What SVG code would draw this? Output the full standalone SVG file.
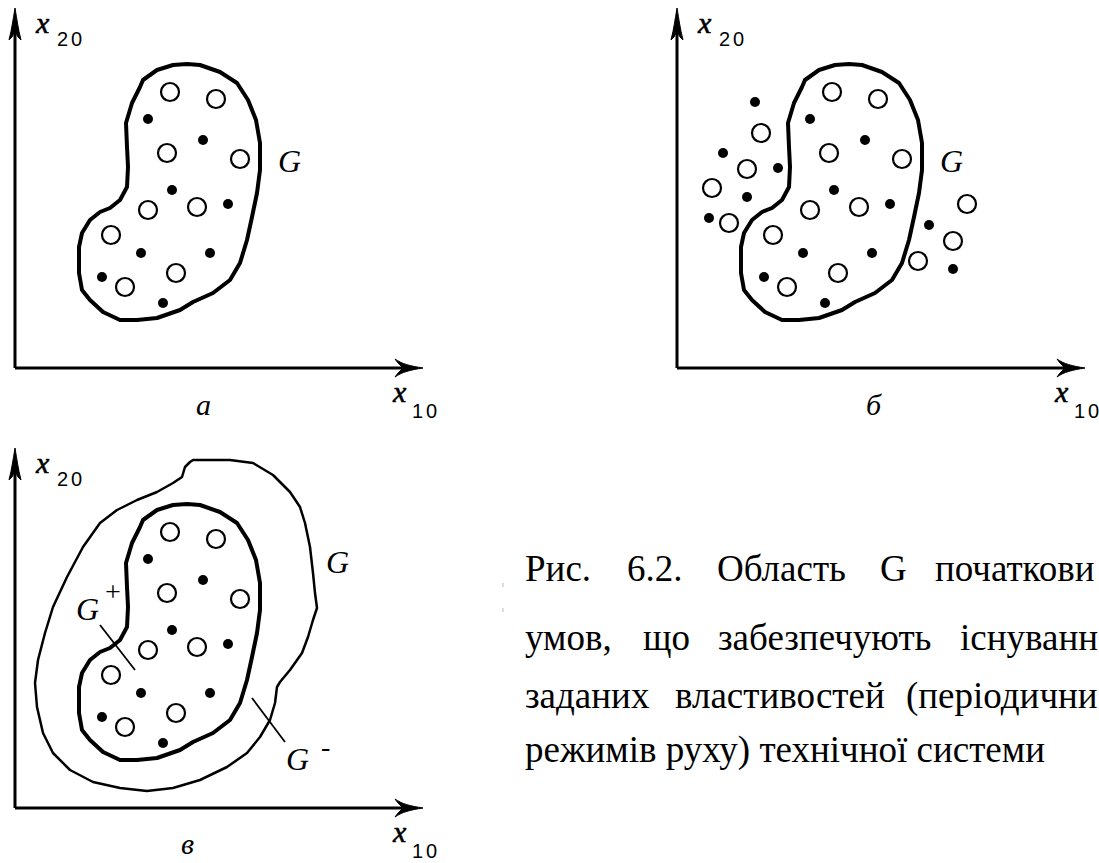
<svg xmlns="http://www.w3.org/2000/svg" xmlns:xlink="http://www.w3.org/1999/xlink" width="1099" height="863" viewBox="0 0 1099 863">
<style>
.ax{stroke:#000;stroke-width:3;fill:none}
.ah{fill:#000;stroke:#000;stroke-width:1}
.blob{fill:none;stroke:#000;stroke-width:4;stroke-linejoin:round}
.outer{fill:none;stroke:#000;stroke-width:2.5;stroke-linejoin:round}
.oc{fill:#fff;stroke:#000;stroke-width:2.2}
.dt{fill:#000}
.lead{stroke:#000;stroke-width:1.8}
.var{font-family:"Liberation Serif",serif;font-style:italic;font-size:30px;stroke:#000;stroke-width:0.6}
.sub{font-family:"Liberation Sans",sans-serif;font-size:20px;letter-spacing:3px}
.g{font-family:"Liberation Serif",serif;font-style:italic;font-size:32px}
.sup{font-family:"Liberation Serif",serif;font-size:28px}
.lbl{font-family:"Liberation Serif",serif;font-style:italic;font-size:30px}
.cap{font-family:"Liberation Serif",serif;font-size:37px}
</style>
<defs>
<g id="axes">
<line class="ax" x1="15" y1="20" x2="15" y2="368"/>
<line class="ax" x1="15" y1="368" x2="410" y2="368"/>
<path class="ah" d="M15,8 C17,20 18,28 21,40 L18,37 L15,31 L12,37 L9,40 C12,28 13,20 15,8 Z"/>
<path class="ah" d="M423,368 C410,366 402,364 395,359 L398,363 L403,368 L398,373 L395,377 C402,372 410,370 423,368 Z"/>
<text class="var" x="36" y="33">x</text>
<text class="sub" x="57" y="46">20</text>
<text class="var" x="393" y="402">x</text>
<text class="sub" x="412" y="418">10</text>
</g>
<path id="blob" class="blob" d="M143,80 L157,70 L173,65 L187,64 L200,65 L220,72 L237,83 L248,100 L256,120 L260,143 L260,170 L257,193 L252,217 L247,240 L240,263 L230,280 L213,293 L193,302 L180,310 L157,318 L137,320 L120,320 L103,312 L90,300 L82,290 L79,273 L79,247 L82,233 L90,220 L100,212 L110,208 L120,200 L127,187 L128,167 L127,147 L126,123 L132,103 L140,87 Z"/>
<g id="pts">
<circle class="oc" cx="170" cy="92" r="9"/>
<circle class="oc" cx="216" cy="99" r="9"/>
<circle class="oc" cx="167" cy="153" r="9"/>
<circle class="oc" cx="240" cy="159" r="9"/>
<circle class="oc" cx="148" cy="210" r="9"/>
<circle class="oc" cx="197" cy="207" r="9"/>
<circle class="oc" cx="111" cy="235" r="9"/>
<circle class="oc" cx="176" cy="273" r="9"/>
<circle class="oc" cx="125" cy="287" r="9"/>
<circle class="dt" cx="148" cy="119" r="5"/>
<circle class="dt" cx="203" cy="140" r="5"/>
<circle class="dt" cx="172" cy="190" r="5"/>
<circle class="dt" cx="228" cy="204" r="5"/>
<circle class="dt" cx="141" cy="253" r="5"/>
<circle class="dt" cx="210" cy="253" r="5"/>
<circle class="dt" cx="102" cy="277" r="5"/>
<circle class="dt" cx="163" cy="303" r="5"/>
</g>
</defs>

<g id="panel-a">
<use xlink:href="#axes"/>
<use xlink:href="#blob"/>
<use xlink:href="#pts"/>
<text class="g" x="278" y="172">G</text>
<text class="lbl" x="196" y="415">а</text>
</g>

<g id="panel-b">
<use xlink:href="#axes" transform="translate(662,0)"/>
<use xlink:href="#blob" transform="translate(662,0)"/>
<use xlink:href="#pts" transform="translate(662,0)"/>
<circle class="oc" cx="761" cy="133" r="9"/>
<circle class="oc" cx="747" cy="169" r="9"/>
<circle class="oc" cx="712" cy="188" r="9"/>
<circle class="oc" cx="729" cy="223" r="9"/>
<circle class="oc" cx="967" cy="204" r="9"/>
<circle class="oc" cx="953" cy="241" r="9"/>
<circle class="oc" cx="918" cy="261" r="9"/>
<circle class="dt" cx="755" cy="102" r="5"/>
<circle class="dt" cx="723" cy="153" r="5"/>
<circle class="dt" cx="778" cy="168" r="5"/>
<circle class="dt" cx="747" cy="197" r="5"/>
<circle class="dt" cx="709" cy="218" r="5"/>
<circle class="dt" cx="929" cy="225" r="5"/>
<circle class="dt" cx="953" cy="269" r="5"/>
<text class="g" x="940" y="172">G</text>
<text class="lbl" x="866" y="415">б</text>
</g>

<g id="panel-c">
<use xlink:href="#axes" transform="translate(0,440)"/>
<path id="outer" class="outer" d="M190,462 L193,460 L230,460 L253,463 L273,475 L290,492 L300,507 L305,523 L310,547 L313,573 L315,593 L317,608 L313,620 L308,637 L302,653 L290,670 L280,682 L277,687 L275,703 L270,720 L260,737 L247,753 L227,767 L200,780 L173,788 L147,791 L120,788 L93,782 L70,770 L53,753 L43,733 L37,707 L35,683 L38,660 L45,633 L53,607 L67,577 L83,547 L100,523 L117,510 L137,500 L157,492 L173,483 L182,477 L185,467 Z"/>
<use xlink:href="#blob" transform="translate(0,440)"/>
<use xlink:href="#pts" transform="translate(0,440)"/>
<line class="lead" x1="100" y1="625" x2="135" y2="670"/>
<line class="lead" x1="252" y1="698" x2="285" y2="742"/>
<text class="g" x="326" y="573">G</text>
<text class="g" x="76" y="620">G</text>
<text class="sup" x="105" y="601">+</text>
<text class="g" x="286" y="770">G</text>
<text class="sup" x="321" y="756">-</text>
<text class="lbl" x="181" y="854">в</text>
</g>

<g id="caption">
<line x1="503" y1="583" x2="503" y2="587" stroke="#bbb" stroke-width="1"/>
<line x1="503" y1="608" x2="503" y2="612" stroke="#bbb" stroke-width="1"/>
<text class="cap" y="581"><tspan x="525">Рис.</tspan><tspan x="627">6.2.</tspan><tspan x="717">Область</tspan><tspan x="880">G</tspan><tspan x="935">початкови</tspan></text>
<text class="cap" y="650"><tspan x="525">умов,</tspan><tspan x="643">що</tspan><tspan x="718">забезпечують</tspan><tspan x="960">існуванн</tspan></text>
<text class="cap" y="708"><tspan x="525">заданих</tspan><tspan x="675">властивостей</tspan><tspan x="906">(періодични</tspan></text>
<text class="cap" x="525" y="762">режимів руху) технічної системи</text>
</g>
</svg>
